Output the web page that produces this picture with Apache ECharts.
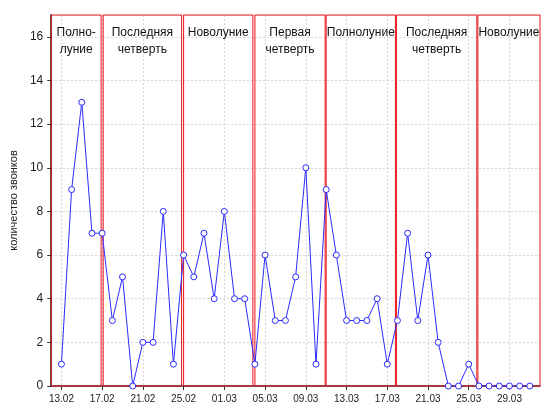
<!DOCTYPE html>
<html><head><meta charset="utf-8">
<script src="https://cdn.jsdelivr.net/npm/echarts@6/dist/echarts.min.js"></script>
<style>html,body{margin:0;padding:0;background:#fff}#chart{width:550px;height:410px}</style>
</head><body><div id="chart"></div>
<script>
// daily values, 13.02 .. 31.03 (index 0..46)
var calls = [1, 9, 13, 7, 7, 3, 5, 0, 2, 2, 8, 1, 6, 5, 7, 4, 8, 4, 4, 1, 6, 3, 3, 5, 10, 1, 9,
	6, 3, 3, 3, 4, 1, 3, 7, 3, 6, 2, 0, 0, 1, 0, 0, 0, 0, 0, 0];
var tickDays = [0, 4, 8, 12, 16, 20, 24, 28, 32, 36, 40, 44];
var tickLabels = ['13.02', '17.02', '21.02', '25.02', '01.03', '05.03', '09.03', '13.03', '17.03', '21.03', '25.03', '29.03'];
var phaseNames = ['Полно-\nлуние', 'Последняя\nчетверть', 'Новолуние', 'Первая\nчетверть', 'Полнолуние', 'Последняя\nчетверть', 'Новолуние'];
var phaseStart = [-1, 4.1, 12, 19, 26, 32.9, 40.9];
var phaseEnd = [3.9, 11.8, 18.8, 25.9, 32.8, 40.8, 47];

var points = [];
calls.forEach(function (v, i) { points.push([i, v]); });

var areas = [];
phaseNames.forEach(function (n, i) {
	areas.push([{ name: n, xAxis: phaseStart[i], yAxis: 0 }, { xAxis: phaseEnd[i], yAxis: 17 }]);
});

var myChart = echarts.init(document.getElementById('chart'));
myChart.setOption({
	animation: false,
	backgroundColor: '#fff',
	textStyle: { fontFamily: 'Liberation Sans' },
	grid: { left: 47, right: 10, top: 15, bottom: 24 },
	xAxis: {
		type: 'value', min: -1, max: 47,
		axisLine: { onZero: false, lineStyle: { color: '#333', width: 1.5 } },
		axisTick: { customValues: tickDays, length: 4, lineStyle: { color: '#333' } },
		axisLabel: {
			customValues: tickDays, color: '#222', fontSize: 10,
			formatter: function (v) { return tickLabels[tickDays.indexOf(v)]; }
		},
		splitLine: { show: true, lineStyle: { type: [2, 2], color: '#d4d4d4' } }
	},
	yAxis: {
		type: 'value', min: 0, max: 17, interval: 2,
		name: 'количество звонков', nameLocation: 'middle', nameGap: 30,
		nameTextStyle: { color: '#222', fontSize: 11 },
		axisLine: { show: true, onZero: false, lineStyle: { color: '#555', width: 2 } },
		axisTick: { show: true, length: 4, lineStyle: { color: '#333' } },
		axisLabel: { color: '#222', fontSize: 12, showMaxLabel: false },
		splitLine: { show: true, lineStyle: { type: [2, 2], color: '#d4d4d4' } }
	},
	series: [{
		type: 'line',
		data: points,
		symbol: 'circle', symbolSize: 6,
		lineStyle: { color: '#2a2aff', width: 1 },
		itemStyle: { color: '#fff', borderColor: '#2a2aff', borderWidth: 1 },
		markArea: {
			silent: true,
			itemStyle: { color: 'rgba(0,0,0,0)', borderColor: '#e8141a', borderWidth: 1 },
			label: { position: 'insideTop', color: '#111', fontSize: 12, lineHeight: 17, distance: 10 },
			data: areas
		}
	}]
});
</script>
</body></html>
